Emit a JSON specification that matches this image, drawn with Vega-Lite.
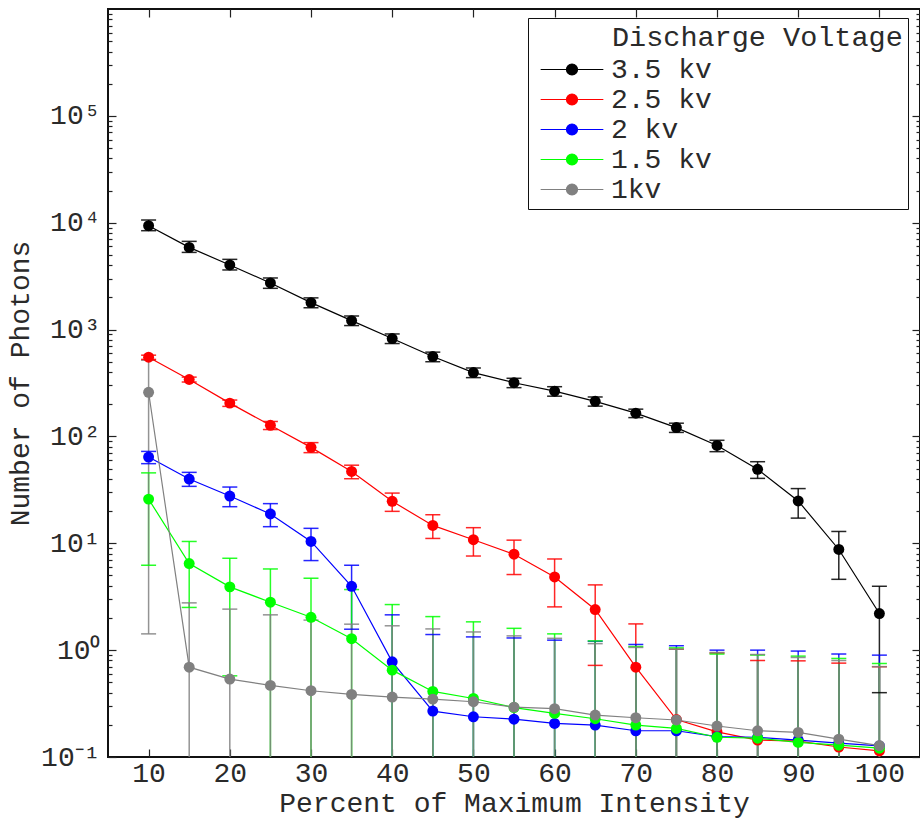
{
  "$schema": "https://vega.github.io/schema/vega-lite/v6.json",
  "width": 812,
  "height": 748,
  "autosize": {"type": "none"},
  "padding": {"left": 108, "top": 9, "right": 0, "bottom": 61},
  "background": "white",
  "config": {
    "view": {"stroke": "#111", "strokeWidth": 2},
    "font": "Liberation Mono",
    "axis": {
      "labelFont": "Liberation Mono",
      "labelFontSize": 28,
      "labelColor": "#2a2a2a",
      "titleFont": "Liberation Mono",
      "titleFontSize": 28,
      "titleFontWeight": "normal",
      "titleColor": "#2a2a2a",
      "domain": false,
      "grid": false,
      "tickColor": "#222",
      "tickWidth": 1.2,
      "labelOverlap": false,
      "labelFlush": false
    }
  },
  "data": {
    "values": [
      {"s": "3.5 kv", "pct": 10, "n": 9380, "lo": 8420, "hi": 10600},
      {"s": "3.5 kv", "pct": 15, "n": 5875, "lo": 5275, "hi": 6690},
      {"s": "3.5 kv", "pct": 20, "n": 4025, "lo": 3613, "hi": 4540},
      {"s": "3.5 kv", "pct": 25, "n": 2730, "lo": 2432, "hi": 3040},
      {"s": "3.5 kv", "pct": 30, "n": 1788, "lo": 1600, "hi": 1980},
      {"s": "3.5 kv", "pct": 35, "n": 1213, "lo": 1090, "hi": 1340},
      {"s": "3.5 kv", "pct": 40, "n": 824, "lo": 740, "hi": 910},
      {"s": "3.5 kv", "pct": 45, "n": 559, "lo": 500, "hi": 615},
      {"s": "3.5 kv", "pct": 50, "n": 396, "lo": 355, "hi": 437},
      {"s": "3.5 kv", "pct": 55, "n": 318, "lo": 286, "hi": 350},
      {"s": "3.5 kv", "pct": 60, "n": 265, "lo": 238, "hi": 292},
      {"s": "3.5 kv", "pct": 65, "n": 213, "lo": 192, "hi": 234},
      {"s": "3.5 kv", "pct": 70, "n": 165, "lo": 150, "hi": 180},
      {"s": "3.5 kv", "pct": 75, "n": 121, "lo": 109, "hi": 133},
      {"s": "3.5 kv", "pct": 80, "n": 82.4, "lo": 72, "hi": 92},
      {"s": "3.5 kv", "pct": 85, "n": 49.2, "lo": 40.5, "hi": 58},
      {"s": "3.5 kv", "pct": 90, "n": 24.9, "lo": 17.2, "hi": 32.5},
      {"s": "3.5 kv", "pct": 95, "n": 8.75, "lo": 4.6, "hi": 12.9},
      {"s": "3.5 kv", "pct": 100, "n": 2.2, "lo": 0.4, "hi": 3.96},

      {"s": "2.5 kv", "pct": 10, "n": 551, "lo": 526, "hi": 576},
      {"s": "2.5 kv", "pct": 15, "n": 341, "lo": 323, "hi": 359},
      {"s": "2.5 kv", "pct": 20, "n": 205, "lo": 191, "hi": 219},
      {"s": "2.5 kv", "pct": 25, "n": 127, "lo": 116, "hi": 138},
      {"s": "2.5 kv", "pct": 30, "n": 79, "lo": 70.5, "hi": 87.5},
      {"s": "2.5 kv", "pct": 35, "n": 47, "lo": 40.2, "hi": 53.8},
      {"s": "2.5 kv", "pct": 40, "n": 24.7, "lo": 19.9, "hi": 29.5},
      {"s": "2.5 kv", "pct": 45, "n": 14.7, "lo": 11.1, "hi": 18.5},
      {"s": "2.5 kv", "pct": 50, "n": 10.8, "lo": 7.6, "hi": 14.0},
      {"s": "2.5 kv", "pct": 55, "n": 7.9, "lo": 5.1, "hi": 10.7},
      {"s": "2.5 kv", "pct": 60, "n": 4.84, "lo": 2.54, "hi": 7.13},
      {"s": "2.5 kv", "pct": 65, "n": 2.4, "lo": 0.72, "hi": 4.08},
      {"s": "2.5 kv", "pct": 70, "n": 0.693, "lo": null, "hi": 1.76},
      {"s": "2.5 kv", "pct": 75, "n": 0.224, "lo": null, "hi": 1.02},
      {"s": "2.5 kv", "pct": 80, "n": 0.172, "lo": null, "hi": 0.94},
      {"s": "2.5 kv", "pct": 85, "n": 0.144, "lo": null, "hi": 0.8},
      {"s": "2.5 kv", "pct": 90, "n": 0.141, "lo": null, "hi": 0.794},
      {"s": "2.5 kv", "pct": 95, "n": 0.124, "lo": null, "hi": 0.756},
      {"s": "2.5 kv", "pct": 100, "n": 0.114, "lo": null, "hi": 0.7},

      {"s": "2 kv", "pct": 10, "n": 64.1, "lo": 55.6, "hi": 72.4},
      {"s": "2 kv", "pct": 15, "n": 39.9, "lo": 34.1, "hi": 46.1},
      {"s": "2 kv", "pct": 20, "n": 27.7, "lo": 22.0, "hi": 33.6},
      {"s": "2 kv", "pct": 25, "n": 18.8, "lo": 14.3, "hi": 23.5},
      {"s": "2 kv", "pct": 30, "n": 10.4, "lo": 6.89, "hi": 13.8},
      {"s": "2 kv", "pct": 35, "n": 3.96, "lo": 1.57, "hi": 6.23},
      {"s": "2 kv", "pct": 40, "n": 0.778, "lo": null, "hi": 2.14},
      {"s": "2 kv", "pct": 45, "n": 0.269, "lo": null, "hi": 1.4},
      {"s": "2 kv", "pct": 50, "n": 0.238, "lo": null, "hi": 1.33},
      {"s": "2 kv", "pct": 55, "n": 0.226, "lo": null, "hi": 1.3},
      {"s": "2 kv", "pct": 60, "n": 0.206, "lo": null, "hi": 1.24},
      {"s": "2 kv", "pct": 65, "n": 0.199, "lo": null, "hi": 1.21},
      {"s": "2 kv", "pct": 70, "n": 0.176, "lo": null, "hi": 1.13},
      {"s": "2 kv", "pct": 75, "n": 0.176, "lo": null, "hi": 1.1},
      {"s": "2 kv", "pct": 80, "n": 0.155, "lo": null, "hi": 1.0},
      {"s": "2 kv", "pct": 85, "n": 0.153, "lo": null, "hi": 1.0},
      {"s": "2 kv", "pct": 90, "n": 0.144, "lo": null, "hi": 0.98},
      {"s": "2 kv", "pct": 95, "n": 0.135, "lo": null, "hi": 0.92},
      {"s": "2 kv", "pct": 100, "n": 0.127, "lo": null, "hi": 0.898},

      {"s": "1.5 kv", "pct": 10, "n": 25.9, "lo": 6.23, "hi": 45.6},
      {"s": "1.5 kv", "pct": 15, "n": 6.46, "lo": 2.51, "hi": 10.4},
      {"s": "1.5 kv", "pct": 20, "n": 3.91, "lo": 0.575, "hi": 7.24},
      {"s": "1.5 kv", "pct": 25, "n": 2.81, "lo": null, "hi": 5.75},
      {"s": "1.5 kv", "pct": 30, "n": 2.03, "lo": null, "hi": 4.71},
      {"s": "1.5 kv", "pct": 35, "n": 1.28, "lo": null, "hi": 3.69},
      {"s": "1.5 kv", "pct": 40, "n": 0.65, "lo": null, "hi": 2.67},
      {"s": "1.5 kv", "pct": 45, "n": 0.411, "lo": null, "hi": 2.06},
      {"s": "1.5 kv", "pct": 50, "n": 0.353, "lo": null, "hi": 1.84},
      {"s": "1.5 kv", "pct": 55, "n": 0.29, "lo": null, "hi": 1.6},
      {"s": "1.5 kv", "pct": 60, "n": 0.256, "lo": null, "hi": 1.42},
      {"s": "1.5 kv", "pct": 65, "n": 0.228, "lo": null, "hi": 1.22},
      {"s": "1.5 kv", "pct": 70, "n": 0.199, "lo": null, "hi": 1.08},
      {"s": "1.5 kv", "pct": 75, "n": 0.185, "lo": null, "hi": 1.05},
      {"s": "1.5 kv", "pct": 80, "n": 0.153, "lo": null, "hi": 0.92},
      {"s": "1.5 kv", "pct": 85, "n": 0.15, "lo": null, "hi": 0.9},
      {"s": "1.5 kv", "pct": 90, "n": 0.137, "lo": null, "hi": 0.879},
      {"s": "1.5 kv", "pct": 95, "n": 0.129, "lo": null, "hi": 0.836},
      {"s": "1.5 kv", "pct": 100, "n": 0.121, "lo": null, "hi": 0.75},

      {"s": "1kv", "pct": 10, "n": 259, "lo": 1.42, "hi": 517},
      {"s": "1kv", "pct": 15, "n": 0.693, "lo": null, "hi": 2.77},
      {"s": "1kv", "pct": 20, "n": 0.536, "lo": null, "hi": 2.42},
      {"s": "1kv", "pct": 25, "n": 0.468, "lo": null, "hi": 2.14},
      {"s": "1kv", "pct": 30, "n": 0.417, "lo": null, "hi": 1.91},
      {"s": "1kv", "pct": 35, "n": 0.385, "lo": null, "hi": 1.75},
      {"s": "1kv", "pct": 40, "n": 0.364, "lo": null, "hi": 1.69},
      {"s": "1kv", "pct": 45, "n": 0.348, "lo": null, "hi": 1.58},
      {"s": "1kv", "pct": 50, "n": 0.329, "lo": null, "hi": 1.48},
      {"s": "1kv", "pct": 55, "n": 0.293, "lo": null, "hi": 1.36},
      {"s": "1kv", "pct": 60, "n": 0.283, "lo": null, "hi": 1.29},
      {"s": "1kv", "pct": 65, "n": 0.247, "lo": null, "hi": 1.15},
      {"s": "1kv", "pct": 70, "n": 0.233, "lo": null, "hi": 1.06},
      {"s": "1kv", "pct": 75, "n": 0.222, "lo": null, "hi": 1.02},
      {"s": "1kv", "pct": 80, "n": 0.195, "lo": null, "hi": 0.95},
      {"s": "1kv", "pct": 85, "n": 0.176, "lo": null, "hi": 0.91},
      {"s": "1kv", "pct": 90, "n": 0.17, "lo": null, "hi": 0.854},
      {"s": "1kv", "pct": 95, "n": 0.147, "lo": null, "hi": 0.8},
      {"s": "1kv", "pct": 100, "n": 0.128, "lo": null, "hi": 0.7}
    ]
  },
  "encoding": {
    "x": {"field": "pct", "type": "quantitative", "scale": {"domain": [5, 105], "nice": false, "zero": false}, "axis": null},
    "y": {"field": "n", "type": "quantitative", "scale": {"type": "log", "domain": [0.1, 1000000], "nice": false}, "axis": null},
    "color": {
      "field": "s",
      "type": "nominal",
      "scale": {
        "domain": ["3.5 kv", "2.5 kv", "2 kv", "1.5 kv", "1kv"],
        "range": ["#000000", "#ff0000", "#0000ff", "#00ff00", "#808080"]
      },
      "legend": {
        "orient": "none",
        "legendX": 420,
        "legendY": 9,
        "title": "Discharge Voltage",
        "titleFont": "Liberation Mono",
        "titleFontSize": 28.5,
        "titleFontWeight": "normal",
        "titleColor": "#2a2a2a",
        "titlePadding": 4,
        "titleLimit": 500,
        "labelFont": "Liberation Mono",
        "labelFontSize": 28,
        "labelColor": "#2a2a2a",
        "strokeColor": "#111",
        "padding": 5,
        "symbolType": "M-5.7,0H5.7M1,0A1,1 0 1,1 -1,0A1,1 0 1,1 1,0Z",
        "symbolSize": 121,
        "symbolStrokeWidth": 1.2,
        "symbolOffset": 25,
        "labelOffset": 25,
        "rowPadding": 2,
        "encode": {
          "title": {"update": {"dx": {"value": 79}}},
          "symbols": {"update": {"stroke": {"scale": "color", "field": "value"}, "fill": {"scale": "color", "field": "value"}, "opacity": {"value": 1}}}
        }
      }
    }
  },
  "layer": [
    {
      "transform": [{"filter": "datum.lo != null"}],
      "mark": {"type": "rule", "strokeWidth": 1.5, "opacity": 0.85},
      "encoding": {
        "x": {
          "field": "pct", "type": "quantitative",
          "title": "Percent of Maximum Intensity",
          "axis": {
            "orient": "bottom",
            "values": [10, 20, 30, 40, 50, 60, 70, 80, 90, 100],
            "tickSize": -8,
            "labelPadding": 10,
            "titlePadding": 2
          }
        },
        "y": {
          "field": "lo", "type": "quantitative",
          "title": "Number of Photons",
          "axis": {
            "orient": "left",
            "values": [0.1, 0.2, 0.3, 0.4, 0.5, 0.6, 0.7, 0.8, 0.9, 1, 2, 3, 4, 5, 6, 7, 8, 9, 10, 20, 30, 40, 50, 60, 70, 80, 90, 100, 200, 300, 400, 500, 600, 700, 800, 900, 1000, 2000, 3000, 4000, 5000, 6000, 7000, 8000, 9000, 10000, 20000, 30000, 40000, 50000, 60000, 70000, 80000, 90000, 100000, 200000, 300000, 400000, 500000, 600000, 700000, 800000, 900000],
            "tickSize": {"condition": {"test": "indexof([0.1, 1, 10, 100, 1000, 10000, 100000], datum.value) >= 0", "value": -8}, "value": -4},
            "labelExpr": "indexof([0.1, 1, 10, 100, 1000, 10000, 100000], datum.value) >= 0 ? '10' + ['⁻¹', '⁰', '¹', '²', '³', '⁴', '⁵'][round(log(datum.value) / LN10) + 1] : ''",
            "labelPadding": 16,
            "titlePadding": 6
          }
        },
        "y2": {"field": "hi"}
      }
    },
    {
      "transform": [{"filter": "datum.lo == null"}],
      "mark": {"type": "rule", "strokeWidth": 1.5, "opacity": 0.85},
      "encoding": {
        "x": {
          "field": "pct", "type": "quantitative",
          "axis": {"orient": "top", "values": [10, 20, 30, 40, 50, 60, 70, 80, 90, 100], "tickSize": -8, "labels": false, "title": null}
        },
        "y": {
          "field": "hi", "type": "quantitative",
          "axis": {
            "orient": "right",
            "values": [0.1, 0.2, 0.3, 0.4, 0.5, 0.6, 0.7, 0.8, 0.9, 1, 2, 3, 4, 5, 6, 7, 8, 9, 10, 20, 30, 40, 50, 60, 70, 80, 90, 100, 200, 300, 400, 500, 600, 700, 800, 900, 1000, 2000, 3000, 4000, 5000, 6000, 7000, 8000, 9000, 10000, 20000, 30000, 40000, 50000, 60000, 70000, 80000, 90000, 100000, 200000, 300000, 400000, 500000, 600000, 700000, 800000, 900000],
            "tickSize": {"condition": {"test": "indexof([0.1, 1, 10, 100, 1000, 10000, 100000], datum.value) >= 0", "value": -8}, "value": -4},
            "labels": false,
            "title": null
          }
        },
        "y2": {"datum": 0.1}
      }
    },
    {
      "mark": {"type": "tick", "orient": "horizontal", "size": 15, "thickness": 1.5, "opacity": 0.85},
      "encoding": {"y": {"field": "hi", "type": "quantitative", "axis": null}}
    },
    {
      "transform": [{"filter": "datum.lo != null"}],
      "mark": {"type": "tick", "orient": "horizontal", "size": 15, "thickness": 1.5, "opacity": 0.85},
      "encoding": {"y": {"field": "lo", "type": "quantitative", "axis": null}}
    },
    {
      "mark": {"type": "line", "strokeWidth": 1.2},
      "encoding": {}
    },
    {
      "mark": {"type": "point", "filled": true, "size": 120, "opacity": 1},
      "encoding": {}
    }
  ],
  "resolve": {"axis": {"x": "independent", "y": "independent"}}
}
